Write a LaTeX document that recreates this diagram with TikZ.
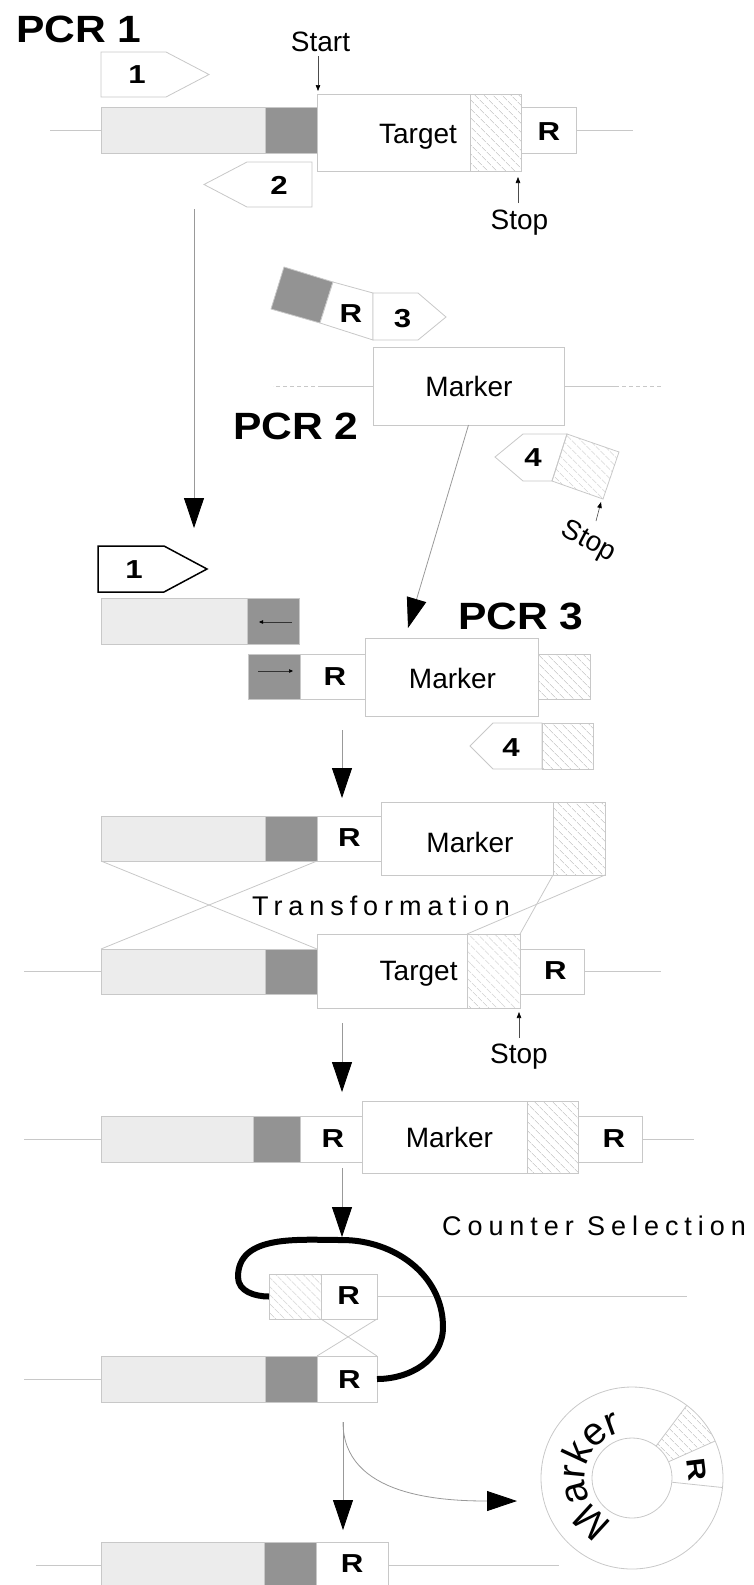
\documentclass[tikz,border=0pt]{standalone}
\usepackage{fontspec}
\setmainfont{Liberation Sans}
\newfontfamily\spacedfont[LetterSpace=22]{Liberation Sans}
\usetikzlibrary{arrows.meta,patterns.meta,calc}
\definecolor{edgec}{HTML}{C8C8C8}
\definecolor{litec}{HTML}{ECECEC}
\definecolor{darkc}{HTML}{939393}
\definecolor{arrc}{HTML}{999999}
\newcommand\mywb[1]{\scalebox{1.2}[1]{\bfseries #1}}
\newcommand\mkbox[7]{%
  \pgfmathsetmacro\mkw{#5-#3}\pgfmathsetmacro\mkh{#6-#4}%
  \pgfmathsetmacro\mkx{(#3+#5)/2}\pgfmathsetmacro\mky{(#4+#6)/2}%
  \node[#2, minimum width=\mkw pt, minimum height=\mkh pt] (#1) at (\mkx,\mky) {#7};}
\begin{document}
\begin{tikzpicture}[x=1pt,y=-1pt,
 every node/.style={inner sep=0pt,outer sep=0pt},
 ltb/.style={draw=edgec,line width=0.8pt,fill=litec},
 dkb/.style={draw=edgec,line width=0.8pt,fill=darkc},
 wtb/.style={draw=edgec,line width=0.8pt,fill=white},
 htb/.style={draw=edgec,line width=0.8pt,pattern={Lines[angle=-45,distance=6.5pt,line width=0.5pt]},pattern color=black!28},
 txt/.style={font=\fontsize{28}{30}\selectfont,text height=20pt,text depth=0pt},
 bld/.style={font=\fontsize{26}{28}\selectfont,text height=18.6pt,text depth=0pt},
 pcr/.style={font=\fontsize{38}{40}\selectfont\bfseries,text height=27.2pt,text depth=0pt},
 spc/.style={font=\spacedfont\fontsize{27}{29}\selectfont,text height=19.3pt,text depth=0pt},
 baseln/.style={draw=edgec,line width=0.8pt},
 primer/.style={draw=edgec,line width=0.8pt,fill=white},
 bigarr/.style={draw=arrc,line width=0.8pt,-{Triangle[length=30pt,width=20pt,color=black]}},
 smarr/.style={draw=black!70,line width=0.6pt,-{Triangle[length=6pt,width=4.5pt,color=black]}},
 tinyarr/.style={draw=black!80,line width=0.5pt,-{Triangle[length=4pt,width=3.5pt,color=black]}},
 loopln/.style={draw=black,line width=6pt}
]
\useasboundingbox (0,0) rectangle (754,1585);

% ---------- PCR 1 ----------
\node[pcr] (pcr1) at (79,28.5) {\scalebox{1.12}[1]{PCR 1}};
\draw[primer] (101,52) -- (166,52) -- (209,74.5) -- (166,97) -- (101,97) -- cycle;
\node[bld] (p1) at (137,74) {\mywb{1}};
\mkbox{L1}{ltb}{101}{107}{265}{153}{}
\mkbox{D1}{dkb}{265}{107}{317}{153}{}
\mkbox{T1}{wtb}{317}{94}{470}{171}{}
\mkbox{H1}{htb}{470}{94}{521}{171}{}
\mkbox{R1}{wtb}{521}{107}{576}{153}{}
\node[txt] (T1t) at (418,133) {Target};
\node[bld] (R1t) at (549,131) {\mywb{R}};
\draw[baseln] (L1.west) -- ++(-51,0);
\draw[baseln] (R1.east) -- ++(57,0);
\draw[primer] (312,162) -- (247,162) -- (204,184.5) -- (247,207) -- (312,207) -- cycle;
\node[bld] (p2) at (279,185) {\mywb{2}};
\node[txt] (start1) at (320.5,41) {Start};
\coordinate (st1a) at (318,56);
\coordinate (st1b) at (318,91);
\draw[smarr] (st1a) -- (st1b);
\node[txt] (stop1) at (519.5,219) {Stop};
\coordinate (sp1a) at (518,203);
\coordinate (sp1b) at (518,177);
\draw[smarr] (sp1a) -- (sp1b);
\coordinate (a1s) at (194,209);
\coordinate (a1e) at (194,528);
\draw[bigarr] (a1s) -- (a1e);

% ---------- PCR 2 ----------
\draw[edgec,line width=0.8pt,fill=darkc] (284,267) -- (333,282) -- (320,323) -- (271,309) -- cycle;
\draw[primer] (333,282) -- (373,293) -- (373,340) -- (320,323) -- cycle;
\draw[primer] (373,293) -- (418,293) -- (446,317) -- (418,340) -- (373,340) -- cycle;
\node[bld] (p3R) at (351,313) {\mywb{R}};
\node[bld] (p3) at (402.5,318) {\mywb{3}};
\mkbox{M2}{wtb}{373}{347}{564}{425}{}
\node[txt] (M2t) at (469,386.3) {Marker};
\draw[baseln] (M2.west) -- ++(-51,0) coordinate (M2l);
\draw[baseln,dash pattern=on 4pt off 3pt] (M2l) -- ++(-49,0);
\draw[baseln] (M2.east) -- ++(51,0) coordinate (M2r);
\draw[baseln,dash pattern=on 4pt off 3pt] (M2r) -- ++(48,0);
\node[pcr] (pcr2) at (296,425.5) {\scalebox{1.12}[1]{PCR 2}};
\draw[primer] (495,457) -- (523,434) -- (567,434) -- (552,481) -- (523,481) -- cycle;
\draw[htb] (567,434) -- (619,452) -- (603,499) -- (552,481) -- cycle;
\node[bld] (p4a) at (533,457) {\mywb{4}};
\coordinate (sp2a) at (596,521);
\coordinate (sp2b) at (601,502);
\draw[smarr] (sp2a) -- (sp2b);
\node[txt,rotate=-28] (stop2) at (590,539) {Stop};
\coordinate (a2e) at (408,628);
\draw[bigarr] (M2.south) -- (a2e);

% ---------- PCR 3 ----------
\draw[draw=black,line width=1.5pt,fill=white] (98,546) -- (164,546) -- (207,569) -- (164,592) -- (98,592) -- cycle;
\node[bld] (p1b) at (134,569.5) {\mywb{1}};
\mkbox{L3}{ltb}{101}{598}{247}{644}{}
\mkbox{D3}{dkb}{247}{598}{299}{644}{}
\coordinate (d3a) at (292,622);
\coordinate (d3b) at (259,622);
\draw[tinyarr] (d3a) -- (d3b);
\mkbox{D3b}{dkb}{248}{654}{300}{699}{}
\coordinate (d3c) at (258,671);
\coordinate (d3d) at (293,671);
\draw[tinyarr] (d3c) -- (d3d);
\mkbox{R3}{wtb}{300}{654}{365}{699}{}
\node[bld] (R3t) at (335,676) {\mywb{R}};
\mkbox{M3}{wtb}{365}{638}{538}{716}{}
\node[txt] (M3t) at (452.5,678.3) {Marker};
\mkbox{H3}{htb}{538}{654}{590}{699}{}
\node[pcr] (pcr3) at (521,616) {\scalebox{1.12}[1]{PCR 3}};
\draw[primer] (470,746) -- (493,723) -- (542,723) -- (542,769) -- (493,769) -- cycle;
\mkbox{H3b}{htb}{542}{723}{593}{769}{}
\node[bld] (p4b) at (511,746.7) {\mywb{4}};
\coordinate (a3s) at (342,730);
\coordinate (a3e) at (342,798);
\draw[bigarr] (a3s) -- (a3e);

% ---------- Transformation ----------
\mkbox{L4}{ltb}{101}{816}{265}{861}{}
\mkbox{D4}{dkb}{265}{816}{317}{861}{}
\mkbox{R4}{wtb}{317}{816}{381}{861}{}
\node[bld] (R4t) at (349.4,837.2) {\mywb{R}};
\mkbox{M4}{wtb}{381}{802}{553}{875}{}
\node[txt] (M4t) at (470,842.5) {Marker};
\mkbox{H4}{htb}{553}{802}{605}{875}{}
\node[spc] (trans) at (381,906) {Transformation};

\mkbox{L5}{ltb}{101}{949}{265}{994}{}
\mkbox{D5}{dkb}{265}{949}{317}{994}{}
\mkbox{T5}{wtb}{317}{934}{467}{1008}{}
\mkbox{H5}{htb}{467}{934}{520}{1008}{}
\mkbox{R5}{wtb}{520}{949}{584}{994}{}
\node[txt] (T5t) at (418.6,970.8) {Target};
\node[bld] (R5t) at (555.4,970) {\mywb{R}};
\draw[baseln] (L5.west) -- ++(-77,0);
\draw[baseln] (R5.east) -- ++(77,0);
\draw[baseln] (L4.south west) -- (D5.north east);
\draw[baseln] (D4.south east) -- (L5.north west);
\draw[baseln] (H4.south west) -- (H5.north east);
\draw[baseln] (H4.south east) -- (H5.north west);
\node[txt] (stop5) at (519,1053) {Stop};
\coordinate (sp5a) at (519,1038);
\coordinate (sp5b) at (519,1012);
\draw[smarr] (sp5a) -- (sp5b);
\coordinate (a4s) at (342,1023);
\coordinate (a4e) at (342,1092);
\draw[bigarr] (a4s) -- (a4e);

% ---------- Row 6 ----------
\mkbox{L6}{ltb}{101}{1116}{253}{1162}{}
\mkbox{D6}{dkb}{253}{1116}{300}{1162}{}
\mkbox{R6}{wtb}{300}{1116}{362}{1162}{}
\mkbox{M6}{wtb}{362}{1101}{527}{1173}{}
\mkbox{H6}{htb}{527}{1101}{578}{1173}{}
\mkbox{R6b}{wtb}{578}{1116}{642}{1162}{}
\node[bld] (R6t) at (333,1138.3) {\mywb{R}};
\node[txt] (M6t) at (449.4,1137.5) {Marker};
\node[bld] (R6bt) at (614,1138) {\mywb{R}};
\draw[baseln] (L6.west) -- ++(-77,0);
\draw[baseln] (R6b.east) -- ++(52,0);
\coordinate (a5s) at (342,1168);
\coordinate (a5e) at (342,1237);
\draw[bigarr] (a5s) -- (a5e);
\node[spc] (cs) at (594,1226) {Counter Selection};

% ---------- Counter selection ----------
\mkbox{H7}{htb}{269}{1274}{321}{1319}{}
\mkbox{R7}{wtb}{321}{1274}{377}{1319}{}
\node[bld] (R7t) at (348.7,1295) {\mywb{R}};
\draw[baseln] (R7.east) -- ++(310,0);
\mkbox{L8}{ltb}{101}{1356}{265}{1402}{}
\mkbox{D8}{dkb}{265}{1356}{317}{1402}{}
\mkbox{R8}{wtb}{317}{1356}{377}{1402}{}
\node[bld] (R8t) at (349.5,1379.2) {\mywb{R}};
\draw[baseln] (L8.west) -- ++(-77,0);
\draw[baseln] (R7.south west) -- (R8.north east);
\draw[baseln] (R7.south east) -- (R8.north west);
\coordinate (lp1) at (238,1277);
\coordinate (lp2) at (342,1240);
\coordinate (lp3) at (443,1327);
\draw[loopln] (H7.west) to[out=180,in=270] (lp1) to[out=90,in=180] (lp2)
  to[out=0,in=90] (lp3) to[out=270,in=0] (R8.east);

% ---------- Final ----------
\coordinate (a6s) at (343,1422);
\coordinate (a6e) at (343,1530);
\coordinate (a7e) at (517,1501);
\draw[bigarr] (a6s) -- (a6e);
\draw[bigarr] (a6s) to[out=270,in=180] (a7e);
\mkbox{L9}{ltb}{101}{1542}{264}{1588}{}
\mkbox{D9}{dkb}{264}{1542}{316}{1588}{}
\mkbox{R9}{wtb}{316}{1542}{388}{1588}{}
\node[bld] (R9t) at (352.2,1563.3) {\mywb{R}};
\draw[baseln] (L9.west) -- ++(-65,0);
\draw[baseln] (R9.east) -- ++(171,0);

% ---------- Plasmid ring ----------
\coordinate (C) at (632,1478);
\path[htb,draw=none] ($(C)+(24:40pt)$) -- ($(C)+(24:91pt)$) arc[start angle=24,end angle=53,radius=91pt]
  -- ($(C)+(53:40pt)$) arc[start angle=53,end angle=24,radius=40pt] -- cycle;
\draw[baseln] (C) circle[radius=91pt];
\draw[baseln] (C) circle[radius=40pt];
\draw[baseln] ($(C)+(-6:40pt)$) -- ($(C)+(-6:91pt)$);
\draw[baseln] ($(C)+(24:40pt)$) -- ($(C)+(24:91pt)$);
\draw[baseln] ($(C)+(53:40pt)$) -- ($(C)+(53:91pt)$);
\foreach \ang/\ch [count=\i] in {227.5/M,195/a,174.5/r,155/k,130.5/e,110/r}
  {\node[font=\fontsize{39}{41}\selectfont,anchor=base,rotate=\ang-90] (mk\i) at ($(C)+(\ang:47pt)$) {\ch};}
\node[bld,rotate=-83] (ringR) at ($(C)+(7:66pt)$) {\mywb{R}};
\end{tikzpicture}
\end{document}
